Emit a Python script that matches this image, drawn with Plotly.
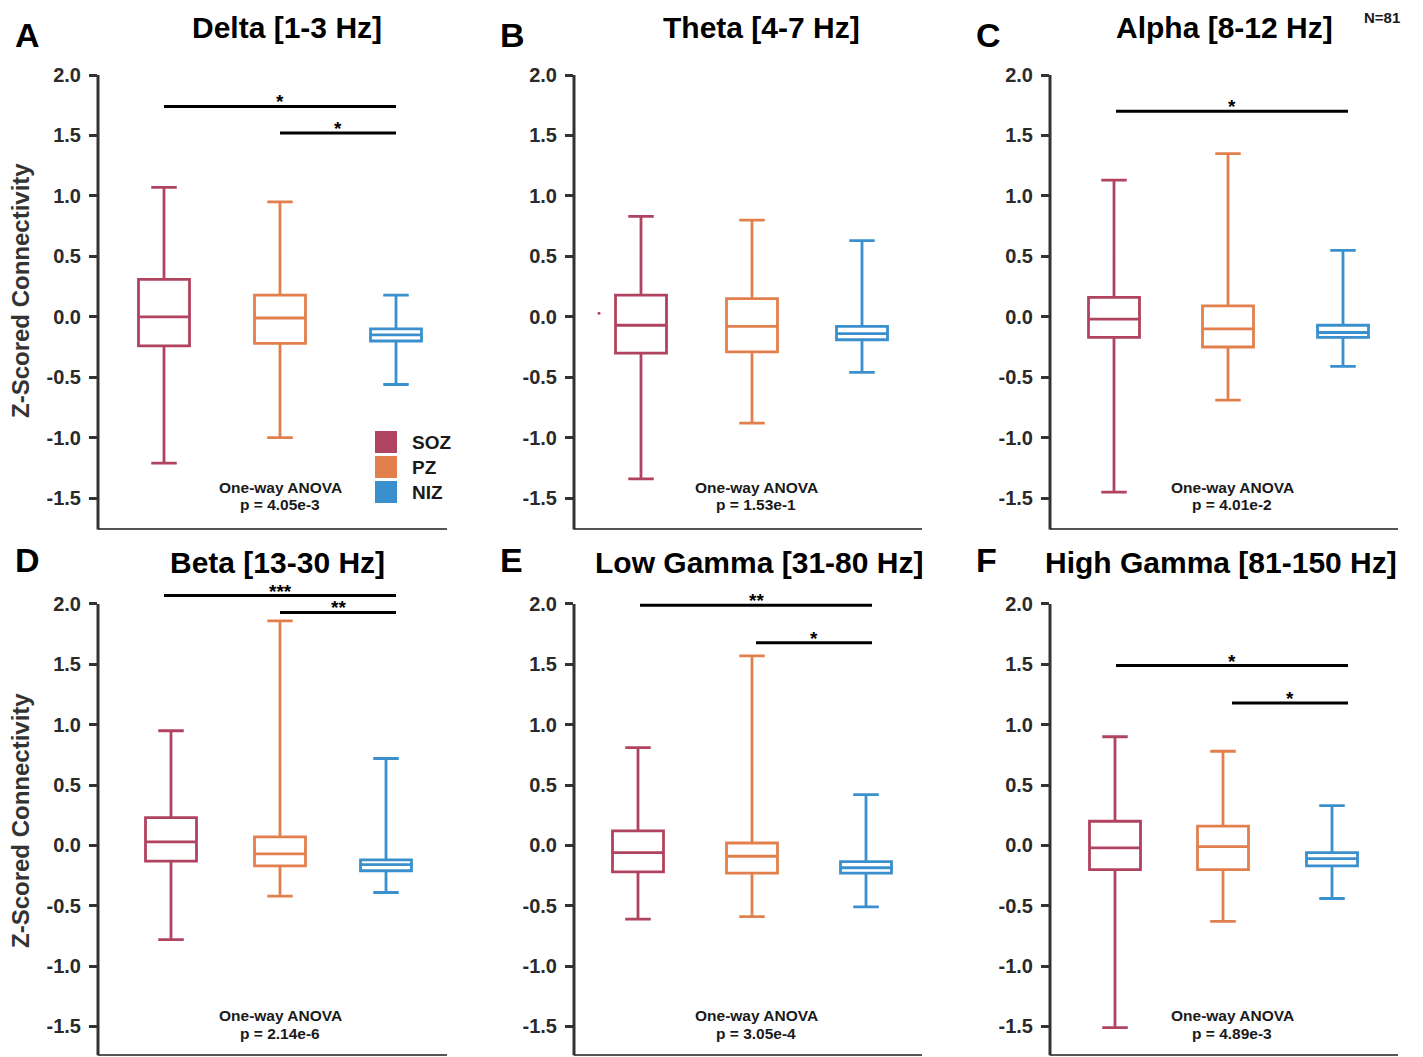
import plotly.graph_objects as go

# ---------------- data ----------------
groups = ["SOZ", "PZ", "NIZ"]
bands = ["Delta [1-3 Hz]", "Theta [4-7 Hz]", "Alpha [8-12 Hz]",
         "Beta [13-30 Hz]", "Low Gamma [31-80 Hz]", "High Gamma [81-150 Hz]"]
letters = ["A", "B", "C", "D", "E", "F"]
p_values = ["4.05e-3", "1.53e-1", "4.01e-2", "2.14e-6", "3.05e-4", "4.89e-3"]
n_label = "N=81"

# per band -> [SOZ, PZ, NIZ]
upper_whisker = [[1.07, 0.95, 0.18], [0.83, 0.80, 0.63], [1.13, 1.35, 0.55],
                 [0.95, 1.86, 0.72], [0.81, 1.57, 0.42], [0.90, 0.78, 0.33]]
q3_vals = [[0.31, 0.18, -0.10], [0.18, 0.15, -0.08], [0.16, 0.09, -0.07],
           [0.23, 0.07, -0.12], [0.12, 0.02, -0.135], [0.20, 0.16, -0.06]]
median_vals = [[0.00, -0.01, -0.15], [-0.07, -0.08, -0.14], [-0.02, -0.10, -0.13],
               [0.03, -0.07, -0.16], [-0.06, -0.09, -0.185], [-0.02, -0.01, -0.11]]
q1_vals = [[-0.24, -0.22, -0.20], [-0.30, -0.29, -0.19], [-0.17, -0.25, -0.17],
           [-0.13, -0.17, -0.21], [-0.22, -0.23, -0.23], [-0.20, -0.20, -0.17]]
lower_whisker = [[-1.21, -1.00, -0.56], [-1.34, -0.88, -0.46], [-1.45, -0.69, -0.41],
                 [-0.78, -0.42, -0.39], [-0.61, -0.59, -0.51], [-1.51, -0.63, -0.44]]

# outliers: (panel, group, value)
outliers = [(1, 0, 0.03)]

# significance: per panel list of (group_from, group_to, y, label)
significance = [
    [(0, 2, 1.74, "*"), (1, 2, 1.52, "*")],
    [],
    [(0, 2, 1.70, "*")],
    [(0, 2, 2.07, "***"), (1, 2, 1.93, "**")],
    [(0, 2, 1.99, "**"), (1, 2, 1.68, "*")],
    [(0, 2, 1.49, "*"), (1, 2, 1.18, "*")],
]

y_ticks = [-1.5, -1.0, -0.5, 0.0, 0.5, 1.0, 1.5, 2.0]

# ---------------- style / layout ----------------
OX, OY = 8, 8              # page body margin
FW, FH = 1415, 1049        # figure size so that page = 1423 x 1057


def PX(px):
    return (px - OX) / FW


def PY(py):
    return 1 - (py - OY) / FH


FONT = "Liberation Sans, Arial, sans-serif"
colors = {"SOZ": "#B0435F", "PZ": "#E2804D", "NIZ": "#3A90CD"}
col_px = [(98, 447), (574, 922), (1050, 1398)]
row_px = [(75, 120.9, -1.75), (604, 120.7, -1.73)]  # y px of 2.0, px/unit, y-min
Y_HI = 2.12
OFF0, STEP = 66.0, 116.0
box_nudge_px = [[0, 0, 0], [1, -4, -10], [-2, -4, -5],
                [7, 0, -10], [-2, -4, -6], [-1, -9, -16]]
title_x_px = [287, 762, 1224, 277, 759, 1221]
letter_x_px = [27, 512, 988, 27, 511, 986]

fig = go.Figure()
layout = dict(width=FW, height=FH, margin=dict(l=0, r=0, t=0, b=0, autoexpand=False),
              paper_bgcolor="white", plot_bgcolor="white", showlegend=False,
              boxmode="overlay")
shapes, annotations = [], []

for k in range(6):
    r, c = divmod(k, 3)
    x0p, x1p = col_px[c]
    y2p, scale, ylo = row_px[r]
    top_px = y2p - (Y_HI - 2.0) * scale
    bot_px = y2p + (2.0 - ylo) * scale
    xa, ya = f"x{k+1}", f"y{k+1}"
    xkey, ykey = f"xaxis{k+1}", f"yaxis{k+1}"
    layout[xkey] = dict(domain=[PX(x0p), PX(x1p)],
                        range=[-OFF0 / STEP, (x1p - x0p - OFF0) / STEP],
                        anchor=ya, showline=True, linecolor="#555", linewidth=2,
                        ticks="", showticklabels=False, showgrid=False, zeroline=False)
    layout[ykey] = dict(domain=[PY(bot_px), PY(top_px)], range=[ylo, Y_HI],
                        anchor=xa, showline=False, showgrid=False, zeroline=False,
                        ticks="outside", ticklen=8, tickwidth=2.5, tickcolor="#333",
                        tickvals=y_ticks, ticktext=[f"{v:.1f}" for v in y_ticks],
                        tickfont=dict(family=FONT, size=20, color="#2a2a2a", weight="bold"),
                        ticklabelstandoff=4)
    # y axis line from bottom to 2.0
    shapes.append(dict(type="line", xref="paper", yref="paper",
                       x0=PX(x0p), x1=PX(x0p), y0=PY(bot_px + 1), y1=PY(y2p),
                       line=dict(color="#333", width=3)))

    for g, name in enumerate(groups):
        pos = g + box_nudge_px[k][g] / STEP
        fig.add_trace(go.Box(
            x=[pos], q1=[q1_vals[k][g]], median=[median_vals[k][g]], q3=[q3_vals[k][g]],
            lowerfence=[lower_whisker[k][g]], upperfence=[upper_whisker[k][g]],
            xaxis=xa, yaxis=ya, width=51 / STEP, whiskerwidth=0.5,
            line=dict(color=colors[name], width=2.8), fillcolor="rgba(255,255,255,0)",
            boxpoints=False, name=name, hoverinfo="skip"))

    for (pk, g, val) in outliers:
        if pk == k:
            fig.add_trace(go.Scatter(x=[g - 41 / STEP], y=[val], mode="markers",
                                     xaxis=xa, yaxis=ya, hoverinfo="skip",
                                     marker=dict(color=colors[groups[g]], size=3)))

    for (g0, g1, yv, lab) in significance[k]:
        shapes.append(dict(type="line", xref=xa, yref=ya, x0=g0, x1=g1, y0=yv, y1=yv,
                           line=dict(color="black", width=3)))
        annotations.append(dict(xref=xa, yref=ya, x=(g0 + g1) / 2, y=yv, text=lab,
                                showarrow=False, yanchor="bottom", yshift=-8,
                                font=dict(family=FONT, size=19, color="black", weight="bold")))

    # ANOVA text
    annotations.append(dict(xref=xa, yref=ya, x=1, y=-1.41, text="One-way ANOVA",
                            showarrow=False, font=dict(family=FONT, size=15.5, color="#1a1a1a", weight="bold")))
    annotations.append(dict(xref=xa, yref=ya, x=1, y=-1.555, text=f"p = {p_values[k]}",
                            showarrow=False, font=dict(family=FONT, size=15.5, color="#1a1a1a", weight="bold")))

    # panel title & letter
    title_y = 27 if r == 0 else 562
    annotations.append(dict(xref="paper", yref="paper", x=PX(title_x_px[k]), y=PY(title_y),
                            text=bands[k], showarrow=False, xanchor="center", yanchor="middle",
                            font=dict(family=FONT, size=30, color="black", weight="bold")))
    letter_y = 35 if r == 0 else 560
    annotations.append(dict(xref="paper", yref="paper", x=PX(letter_x_px[k]), y=PY(letter_y),
                            text=letters[k], showarrow=False, xanchor="center", yanchor="middle",
                            font=dict(family=FONT, size=34, color="black", weight="bold")))

# y-axis titles
for yc in (291, 821):
    annotations.append(dict(xref="paper", yref="paper", x=PX(20), y=PY(yc),
                            text="Z-Scored Connectivity", textangle=-90, showarrow=False,
                            xanchor="center", yanchor="middle",
                            font=dict(family=FONT, size=24, color="#333", weight="bold")))

# legend (panel A)
for i, name in enumerate(groups):
    top = 431 + 25 * i
    shapes.append(dict(type="rect", xref="paper", yref="paper",
                       x0=PX(375), x1=PX(397), y0=PY(top + 22), y1=PY(top),
                       fillcolor=colors[name], line=dict(width=0)))
    annotations.append(dict(xref="paper", yref="paper", x=PX(410), y=PY(top + 11),
                            text=name, showarrow=False, xanchor="left", yanchor="middle",
                            font=dict(family=FONT, size=19, color="#1a1a1a", weight="bold")))

# N label (top right)
annotations.append(dict(xref="paper", yref="paper", x=PX(1382), y=PY(17), text=n_label,
                        showarrow=False, xanchor="center", yanchor="middle",
                        font=dict(family=FONT, size=15, color="#1a1a1a", weight="bold")))

layout["shapes"] = shapes
layout["annotations"] = annotations
fig.update_layout(**layout)
fig.write_html("out.html")
